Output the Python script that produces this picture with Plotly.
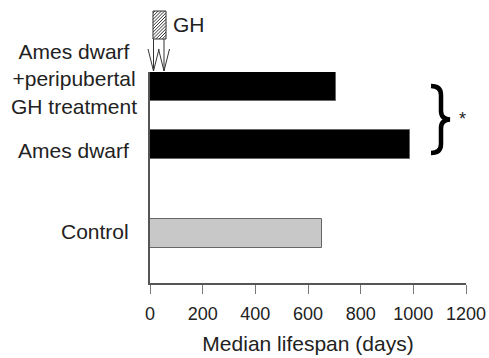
import plotly.graph_objects as go

# ---- data ----
groups = ["Control", "Ames dwarf", "Ames dwarf<br>+peripubertal<br>GH treatment"]
median_lifespan = [653, 988, 706]
bar_colors = ["#c8c8c8", "#000000", "#000000"]
x_ticks = [0, 200, 400, 600, 800, 1000, 1200]
x_title = "Median lifespan (days)"
treatment_label = "GH"
significance = "*"

# ---- layout constants (pixels) ----
W, H = 489, 358
L, R, T, B = 150, 466, 72, 283
PH = B - T
bar_centers = [B - 233.5, B - 144.5, B - 86.5]   # in px-from-bottom units
bar_thick = 29

def px(xp):
    return (xp - L) / (R - L)

def py(yp):
    return (B - yp) / PH

FONT = "Arial, Liberation Sans, sans-serif"
TXT = "#222222"

fig = go.Figure()
fig.add_trace(go.Bar(
    x=median_lifespan, y=bar_centers, orientation="h", width=bar_thick,
    marker=dict(color=bar_colors, line=dict(color="#666666", width=1)),
    showlegend=False, hoverinfo="x",
))

shapes = []
annotations = []

# category labels
label_pos = [(131, 231.5, "right"), (131, 150, "right"), (139, 79, "right")]
for (xr, yc, anc), g in zip(label_pos, groups):
    annotations.append(dict(
        x=px(xr), y=py(yc), xref="paper", yref="paper", text=g,
        showarrow=False, xanchor=anc, yanchor="middle", align="center",
        font=dict(family=FONT, size=21, color=TXT),
    ))

# GH hatched box
x0, x1, y0, y1 = 153, 166, 11, 39
shapes.append(dict(type="rect", xref="paper", yref="paper",
                   x0=px(x0), x1=px(x1), y0=py(y1), y1=py(y0),
                   line=dict(color="#333333", width=1), fillcolor="white"))
k = x0 + y0 + 2
while k < x1 + y1:
    xa = max(x0, k - y1)
    xb = min(x1, k - y0)
    if xb > xa:
        shapes.append(dict(type="line", xref="paper", yref="paper",
                           x0=px(xa), y0=py(k - xa), x1=px(xb), y1=py(k - xb),
                           line=dict(color="#333333", width=1)))
    k += 3.2
annotations.append(dict(x=px(171), y=py(24.5), xref="paper", yref="paper",
                        text=treatment_label, showarrow=False, xanchor="left",
                        yanchor="middle",
                        font=dict(family=FONT, size=21, color=TXT)))
# arrows
for xa in (153.5, 164):
    shapes.append(dict(type="line", xref="paper", yref="paper",
                       x0=px(xa), x1=px(xa), y0=py(39), y1=py(71),
                       line=dict(color="#333333", width=1)))
    shapes.append(dict(type="path", xref="paper", yref="paper",
                       path=f"M{px(xa-5.5)},{py(49)} L{px(xa)},{py(71)} L{px(xa+5.5)},{py(49)}",
                       line=dict(color="#333333", width=1)))

# brace
def P(a, b):
    return f"{px(a)},{py(b)}"
brace = (f"M{P(431, 86)} Q{P(441, 86)} {P(441, 95)} L{P(441, 111)} "
         f"Q{P(441, 119)} {P(450, 119.5)} Q{P(441, 120)} {P(441, 128)} "
         f"L{P(441, 144)} Q{P(441, 153)} {P(431, 153)}")
shapes.append(dict(type="path", xref="paper", yref="paper", path=brace,
                   line=dict(color="black", width=4.5)))
annotations.append(dict(x=px(462), y=py(119), xref="paper", yref="paper",
                        text=significance, showarrow=False, xanchor="center",
                        yanchor="middle",
                        font=dict(family=FONT, size=18, color=TXT)))

fig.update_layout(
    width=W, height=H,
    margin=dict(l=L, r=W - R, t=T, b=H - B, pad=0, autoexpand=False),
    paper_bgcolor="white", plot_bgcolor="white",
    bargap=0,
    shapes=shapes, annotations=annotations,
    xaxis=dict(
        range=[0, 1200], tickvals=x_ticks, ticktext=[str(v) for v in x_ticks],
        showgrid=False, zeroline=False, automargin=False,
        showline=True, linecolor="#555555", linewidth=1.5,
        ticks="outside", ticklen=9, tickcolor="#777777", tickwidth=1,
        ticklabelstandoff=5,
        tickfont=dict(family=FONT, size=18, color=TXT),
        title=dict(text=x_title, font=dict(family=FONT, size=21, color=TXT), standoff=13),
        fixedrange=True,
    ),
    yaxis=dict(
        range=[0, PH], showgrid=False, zeroline=False, automargin=False,
        showline=True, linecolor="#555555", linewidth=1.5,
        showticklabels=False, ticks="", fixedrange=True,
    ),
)

fig.write_html("out.html")
